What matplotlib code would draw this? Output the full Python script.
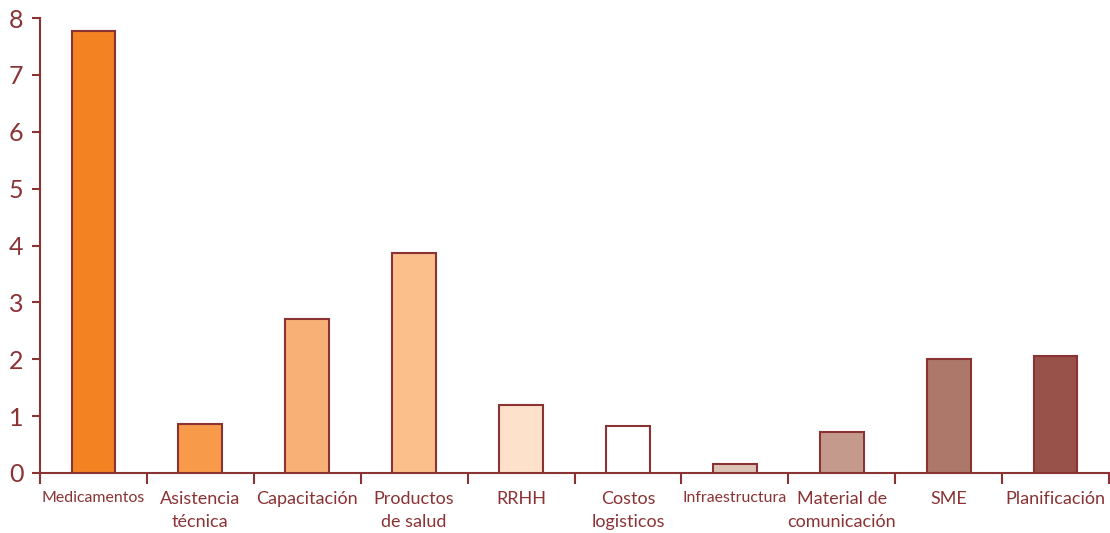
import numpy as np
import matplotlib.pyplot as plt

categories = ['Medicamentos', 'Asistencia\ntécnica', 'Capacitación', 'Productos\nde salud',
              'RRHH', 'Costos\nlogisticos', 'Infraestructura', 'Material de\ncomunicación',
              'SME', 'Planificación']
values = [7.77, 0.86, 2.71, 3.87, 1.2, 0.82, 0.16, 0.72, 2.0, 2.05]
colors = ['#F38223', '#F79A4A', '#F9B077', '#FBBF8C', '#FDE1CA', '#FFFFFF',
          '#DCC3B8', '#C49A8D', '#AD7869', '#98524A']
# long single-line labels get a smaller size so they fit their slot
label_sizes = [11.4, 13, 13, 13, 13, 13, 11.4, 13, 13, 13]

dark = '#8A3234'
plt.rcParams['font.family'] = ['Lato', 'DejaVu Sans']

fig = plt.figure(figsize=(11.1, 5.33), dpi=100)
ax = fig.add_axes([40 / 1110, 60 / 533, 1069 / 1110, 455 / 533])

x = np.arange(len(categories))
ax.bar(x, values, width=0.41, color=colors, edgecolor=dark, linewidth=1.5, zorder=3)

ax.set_xlim(-0.5, len(categories) - 0.5)
ax.set_ylim(0, 8)
ax.set_yticks(range(0, 9))
ax.set_xticks(np.arange(-0.5, len(categories) + 0.5, 1))
ax.set_xticklabels([])
ax.set_xticks(x, minor=True)
ax.set_xticklabels(categories, minor=True, color=dark, linespacing=1.5)
for lbl, fs in zip(ax.get_xticklabels(minor=True), label_sizes):
    lbl.set_fontsize(fs)
ax.tick_params(axis='x', which='minor', length=0, pad=13)
ax.tick_params(axis='x', which='major', length=8, width=1.5, color=dark, direction='out')
ax.tick_params(axis='y', length=6, width=1.5, color=dark, labelsize=18, labelcolor=dark, pad=6)

for s in ['top', 'right']:
    ax.spines[s].set_visible(False)
for s in ['left', 'bottom']:
    ax.spines[s].set_color(dark)
    ax.spines[s].set_linewidth(1.5)

fig.savefig('out.png', dpi=100)
